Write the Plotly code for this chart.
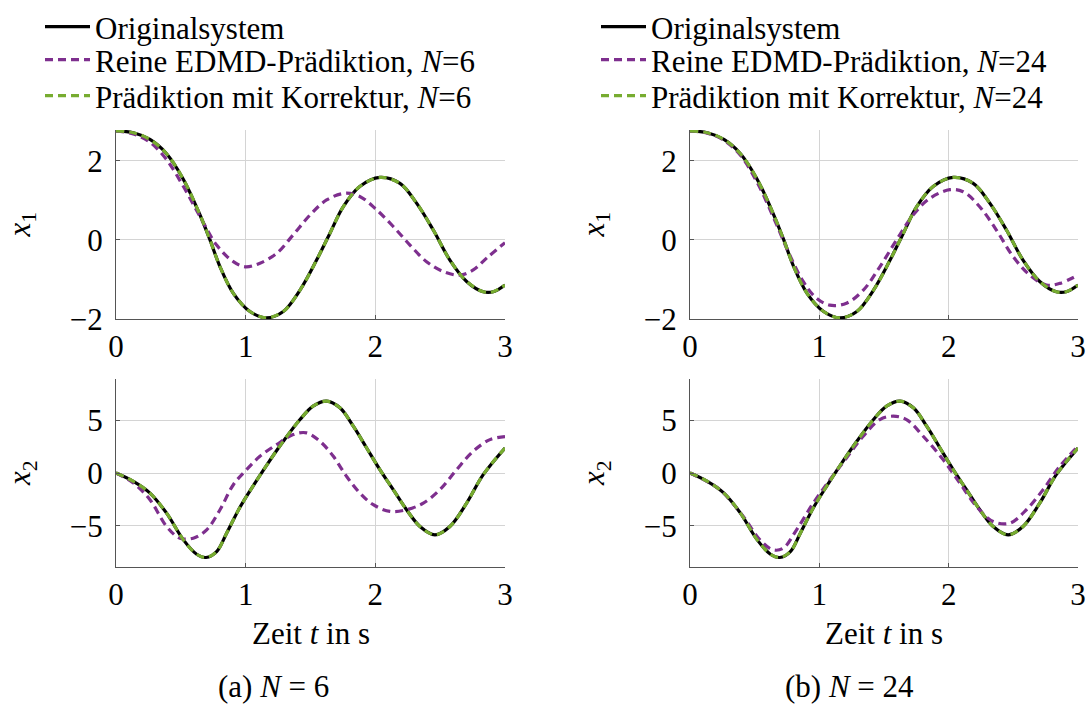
import plotly.graph_objects as go

# ---------------- data ----------------
t_orig_x1 = [0, 0.134, 0.262, 0.39, 0.52, 0.648, 0.725, 0.80, 0.905, 1.033, 1.16, 1.29, 1.419,
             1.547, 1.65, 1.753, 1.88, 2.035, 2.19, 2.318, 2.447, 2.575, 2.704, 2.832, 2.909, 3.0]
x1_orig = [2.76, 2.71, 2.54, 2.18, 1.53, 0.63, 0.0, -0.66, -1.35, -1.81, -1.97, -1.81, -1.27,
           -0.51, 0.17, 0.84, 1.35, 1.58, 1.43, 0.93, 0.25, -0.51, -1.05, -1.31, -1.31, -1.14]

t_orig_x2 = [0, 0.134, 0.262, 0.39, 0.52, 0.622, 0.694, 0.776, 0.853, 0.956, 1.059, 1.16, 1.29,
             1.419, 1.52, 1.624, 1.727, 1.83, 1.933, 2.035, 2.138, 2.241, 2.344, 2.46, 2.575,
             2.704, 2.832, 3.0]
x2_orig = [0, -0.79, -1.90, -3.80, -6.33, -7.69, -8.0, -7.44, -5.70, -3.25, -1.2, 0.7, 3.0,
           5.06, 6.33, 6.80, 6.17, 4.43, 2.37, 0.32, -1.58, -3.48, -5.06, -5.85, -5.06,
           -2.85, -0.16, 2.37]

# corrected prediction (coincides with the original system)
x1_korr_n6 = list(x1_orig)
x2_korr_n6 = list(x2_orig)
x1_korr_n24 = list(x1_orig)
x2_korr_n24 = list(x2_orig)

# pure EDMD prediction, N = 6
t_edmd6_x1 = [0, 0.134, 0.262, 0.39, 0.52, 0.648, 0.776, 0.905, 0.997, 1.11, 1.239, 1.367, 1.496,
              1.624, 1.766, 1.88, 2.01, 2.138, 2.267, 2.395, 2.524, 2.652, 2.755, 2.858, 3.0]
x1_edmd6 = [2.76, 2.68, 2.47, 2.03, 1.35, 0.59, -0.13, -0.55, -0.68, -0.59, -0.34, 0.13, 0.63,
            1.01, 1.18, 1.10, 0.76, 0.34, -0.13, -0.55, -0.80, -0.89, -0.76, -0.46, -0.07]

t_edmd6_x2 = [0, 0.134, 0.262, 0.39, 0.493, 0.596, 0.699, 0.802, 0.905, 1.007, 1.11, 1.239, 1.367,
              1.47, 1.573, 1.676, 1.778, 1.881, 1.984, 2.113, 2.241, 2.37, 2.498, 2.627, 2.755,
              2.884, 3.0]
x2_edmd6 = [0, -0.95, -2.53, -5.06, -6.17, -6.17, -5.38, -3.48, -1.11, 0.32, 1.58, 2.69, 3.64,
            3.80, 3.0, 1.58, -0.32, -1.90, -3.0, -3.64, -3.48, -2.85, -1.58, 0.32, 2.06,
            3.16, 3.45]

# pure EDMD prediction, N = 24
t_edmd24_x1 = [0, 0.134, 0.262, 0.39, 0.52, 0.648, 0.76, 0.87, 0.97, 1.08, 1.21, 1.34, 1.468,
               1.597, 1.725, 1.854, 2.009, 2.112, 2.24, 2.369, 2.498, 2.627, 2.756, 2.859, 3.0]
x1_edmd24 = [2.76, 2.70, 2.52, 2.14, 1.45, 0.55, -0.30, -1.02, -1.45, -1.65, -1.60, -1.27, -0.68,
             0.0, 0.63, 1.05, 1.27, 1.22, 0.84, 0.25, -0.42, -0.89, -1.14, -1.10, -0.89]

t_edmd24_x2 = [0, 0.116, 0.232, 0.412, 0.541, 0.644, 0.721, 0.824, 0.953, 1.082, 1.21, 1.339,
               1.468, 1.571, 1.674, 1.803, 1.957, 2.086, 2.215, 2.344, 2.472, 2.601, 2.73,
               2.859, 3.0]
x2_edmd24 = [0, -0.7, -1.58, -4.11, -6.33, -7.28, -7.12, -5.38, -2.85, -0.63, 1.42, 3.48,
             5.06, 5.38, 5.06, 3.48, 1.27, -0.95, -3.16, -4.59, -4.75, -3.48, -1.58,
             0.63, 2.53]

x_ticks = [0, 1, 2, 3]
y1_ticks = [-2, 0, 2]
y2_ticks = [-5, 0, 5]

names_n6 = ["Originalsystem", "Reine EDMD-Prädiktion, <i>N</i>=6", "Prädiktion mit Korrektur, <i>N</i>=6"]
names_n24 = ["Originalsystem", "Reine EDMD-Prädiktion, <i>N</i>=24", "Prädiktion mit Korrektur, <i>N</i>=24"]
captions = ["(a) <i>N</i> = 6", "(b) <i>N</i> = 24"]

# ---------------- style ----------------
W, H = 1089, 704
FONT = "Liberation Serif, Times New Roman, Times, serif"
FS = 31
BLACK = "#000000"
PURPLE = "#7E2F8E"
GREEN = "#77AC30"
DASH = "8px,5px"
LW = 3.2

def px_x(p):
    return p / W

def px_y(p):
    return 1 - p / H

col_dom = [[px_x(116), px_x(505)], [px_x(690), px_x(1078)]]
row_dom = [[px_y(319), px_y(130)], [px_y(567), px_y(379)]]

# one legend per legend row so that the row spacing matches the reference
leg_ids = [["legend", "legend2", "legend3"], ["legend4", "legend5", "legend6"]]
leg_x = [40, 596]
leg_y = [27, 60, 96]

fig = go.Figure()

panels = [
    ("x", "y", 0, 0, t_orig_x1, x1_orig, t_edmd6_x1, x1_edmd6, x1_korr_n6, names_n6, True),
    ("x2", "y2", 0, 1, t_orig_x2, x2_orig, t_edmd6_x2, x2_edmd6, x2_korr_n6, names_n6, False),
    ("x3", "y3", 1, 0, t_orig_x1, x1_orig, t_edmd24_x1, x1_edmd24, x1_korr_n24, names_n24, True),
    ("x4", "y4", 1, 1, t_orig_x2, x2_orig, t_edmd24_x2, x2_edmd24, x2_korr_n24, names_n24, False),
]

for xa, ya, c, r, t_o, y_o, t_e, y_e, y_k, nm, sl in panels:
    lg = leg_ids[c]
    fig.add_trace(go.Scatter(x=t_o, y=y_o, mode="lines", name=nm[0], xaxis=xa, yaxis=ya,
                             line=dict(color=BLACK, width=LW, shape="spline", smoothing=1.0),
                             legend=lg[0], showlegend=sl, hoverinfo="skip"))
    fig.add_trace(go.Scatter(x=t_e, y=y_e, mode="lines", name=nm[1], xaxis=xa, yaxis=ya,
                             line=dict(color=PURPLE, width=LW, dash=DASH, shape="spline", smoothing=1.0),
                             legend=lg[1], showlegend=sl, hoverinfo="skip"))
    fig.add_trace(go.Scatter(x=t_o, y=y_k, mode="lines", name=nm[2], xaxis=xa, yaxis=ya,
                             line=dict(color=GREEN, width=LW, dash=DASH, shape="spline", smoothing=1.0),
                             legend=lg[2], showlegend=sl, hoverinfo="skip"))

axis_common = dict(
    showgrid=True, gridcolor="#d4d4d4", gridwidth=1,
    showline=True, linecolor="#555555", linewidth=1.3,
    ticks="inside", ticklen=4, tickcolor="#555555",
    zeroline=False, automargin=False,
    tickfont=dict(family=FONT, size=FS, color="black"),
    mirror=False,
)

layout = dict(
    width=W, height=H,
    margin=dict(l=0, r=0, t=0, b=0),
    paper_bgcolor="white", plot_bgcolor="white",
    font=dict(family=FONT, size=FS, color="black"),
    template="none",
)

for xa, ya, c, r, *_rest in panels:
    xkey = "xaxis" if xa == "x" else "xaxis" + xa[1:]
    ykey = "yaxis" if ya == "y" else "yaxis" + ya[1:]
    yr = [-2.0, 2.78] if r == 0 else [-8.9, 8.9]
    yt = y1_ticks if r == 0 else y2_ticks
    layout[xkey] = dict(axis_common, domain=col_dom[c], anchor=ya, range=[0, 3],
                        tickvals=x_ticks, ticktext=[str(v) for v in x_ticks])
    layout[ykey] = dict(axis_common, domain=row_dom[r], anchor=xa, range=yr,
                        tickvals=yt, ticklabelstandoff=6)

legend_common = dict(
    xanchor="left", yanchor="middle",
    bgcolor="rgba(0,0,0,0)", borderwidth=0,
    font=dict(family=FONT, size=FS, color="black"),
    tracegroupgap=0, itemwidth=45,
)
for c in range(2):
    for k in range(3):
        layout[leg_ids[c][k]] = dict(legend_common, x=px_x(leg_x[c]), y=px_y(leg_y[k]))

fig.update_layout(**layout)

# axis titles and captions
ann = []
for c, xc_ax, cap_x in [(0, 22, 273), (1, 596, 849)]:
    for r, lab in [(0, "<i>x</i><sub>1</sub>"), (1, "<i>x</i><sub>2</sub>")]:
        yc = (130 + 319) / 2 if r == 0 else (379 + 567) / 2
        ann.append(dict(text=lab, x=px_x(xc_ax), y=px_y(yc), xref="paper", yref="paper",
                        showarrow=False, textangle=-90, xanchor="center", yanchor="middle",
                        font=dict(family=FONT, size=FS, color="black")))
    xmid = (col_dom[c][0] + col_dom[c][1]) / 2
    ann.append(dict(text="Zeit <i>t</i> in s", x=xmid, y=px_y(633), xref="paper", yref="paper",
                    showarrow=False, xanchor="center", yanchor="middle",
                    font=dict(family=FONT, size=FS, color="black")))
    ann.append(dict(text=captions[c], x=px_x(cap_x), y=px_y(686), xref="paper", yref="paper",
                    showarrow=False, xanchor="center", yanchor="middle",
                    font=dict(family=FONT, size=FS, color="black")))
fig.update_layout(annotations=ann)

fig.write_html("out.html")
